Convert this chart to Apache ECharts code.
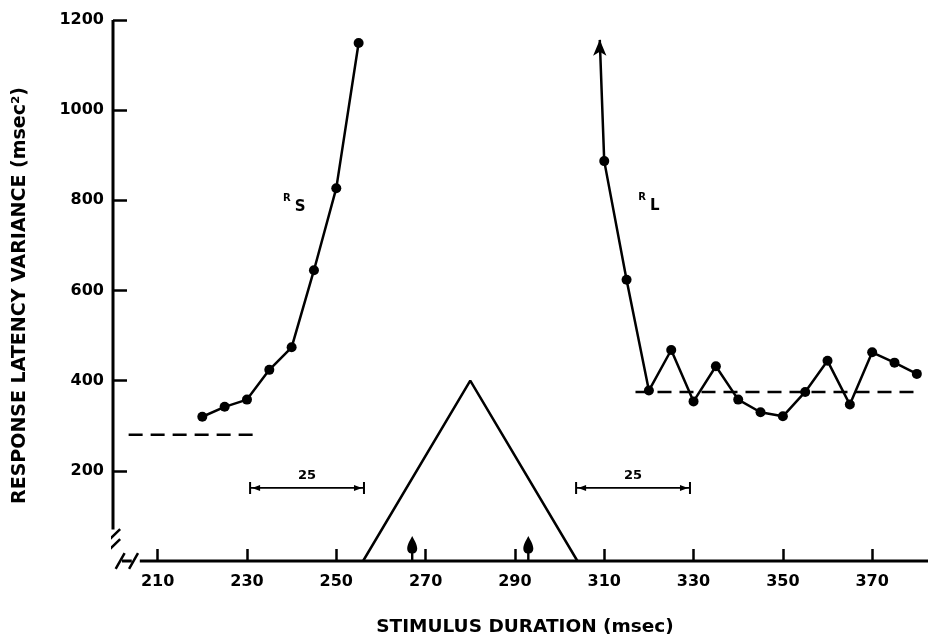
<!DOCTYPE html>
<html><head><meta charset="utf-8">
<script src="https://cdn.jsdelivr.net/npm/echarts@6/dist/echarts.min.js"></script>
<style>html,body{margin:0;padding:0;background:#fff}#c{width:928px;height:642px}</style>
</head><body><div id="c"></div>
<script>
const xTicks = [210, 230, 250, 270, 290, 310, 330, 350, 370];
const yTicks = [200, 400, 600, 800, 1000, 1200];
const rsX = [220, 225, 230, 235, 240, 245, 250, 255];
const rsY = [320, 342, 358, 424, 474, 645, 827, 1149];
const rlX = [310, 315, 320, 325, 330, 335, 340, 345, 350, 355, 360, 365, 370, 375, 380];
const rlY = [887, 624, 378, 468, 354, 432, 358, 330, 321, 375, 444, 347, 463, 440, 415];
const rlArrow = [309, 1156];
const baseSX = [203.5, 233]; const baseSY = 280;
const baseLX = [317, 380.5]; const baseLY = 375;
const triX = [256, 280, 304]; const triY = [0, 400, 0];
const markerX = [267, 293];
const bracketSX = [230.7, 256.2]; const bracketLX = [303.7, 329.2]; const bracketY = 162;
const bracketText = '25'; const bracketTextY = 190;
const labelRS = [240.6, 792]; const labelRL = [320, 794];

const FF = 'DejaVu Sans';
const K = '#000';
const leftEnd = 'path://M0,0 L2,0 L2,12 L0,12 Z M3,6 L11,3 L11,9 Z';
const rightEnd = 'path://M9,0 L11,0 L11,12 L9,12 Z M8,6 L0,3 L0,9 Z';
const markerPath = 'path://M5,0 C6.5,3 10,8 10,12 C10,15 8,17 5,17 C2,17 0,15 0,12 C0,8 3.5,3 5,0 Z M3.8,16 L6.2,16 L6.2,24 L3.8,24 Z';

function plain(data, extra) {
  return Object.assign({type:'line', data, symbol:'none', silent:true, clip:false, animation:false,
    lineStyle:{color:K, width:2.5}}, extra || {});
}
function bracket(xs) {
  return plain([
    {value:[xs[0], bracketY], symbol:leftEnd, symbolSize:[11,12], symbolOffset:[4.5,0]},
    {value:[xs[1], bracketY], symbol:rightEnd, symbolSize:[11,12], symbolOffset:[-4.5,0]}
  ], {showSymbol:true, symbol:'none', itemStyle:{color:K, opacity:1}, lineStyle:{color:K, width:1.8}});
}
function textAt(pt, formatter, rich, style) {
  return {type:'scatter', data:[pt], symbolSize:0, silent:true, itemStyle:{color:K, opacity:1},
    label:Object.assign({show:true, position:'inside', formatter, color:K, fontFamily:FF, fontWeight:'bold',
      textBorderWidth:0, rich}, style||{})};
}
const richR = {
  r:{fontFamily:FF, fontWeight:'bold', fontSize:10, color:K, verticalAlign:'top', lineHeight:22},
  s:{fontFamily:FF, fontWeight:'bold', fontSize:15, color:K, verticalAlign:'bottom', lineHeight:22, padding:[0,0,0,4]}
};

const chart = echarts.init(document.getElementById('c'), null, {renderer:'canvas'});
chart.setOption({
  animation:false,
  backgroundColor:'#fff',
  grid:{left:113, right:0, top:20, bottom:78},
  xAxis:{type:'value', min:200, max:382.5,
    axisLine:{show:false}, splitLine:{show:false},
    axisTick:{show:true, inside:true, length:12, customValues:xTicks, lineStyle:{color:K, width:2.5}},
    axisLabel:{customValues:xTicks, margin:13, color:K, fontFamily:FF, fontWeight:'bold', fontSize:16,
      formatter:v => String(v)},
    name:'STIMULUS DURATION (msec)', nameLocation:'middle', nameGap:57,
    nameTextStyle:{color:K, fontFamily:FF, fontWeight:'bold', fontSize:18.5, padding:[0,0,0,9]}},
  yAxis:{type:'value', min:0, max:1200,
    axisLine:{show:false}, splitLine:{show:false},
    axisTick:{show:true, inside:true, length:14, customValues:yTicks, lineStyle:{color:K, width:2.5}},
    axisLabel:{customValues:yTicks, margin:9, color:K, fontFamily:FF, fontWeight:'bold', fontSize:16,
      formatter:v => String(v)},
    name:'RESPONSE LATENCY VARIANCE (msec\u00B2)', nameLocation:'middle', nameGap:83,
    nameTextStyle:{color:K, fontFamily:FF, fontWeight:'bold', fontSize:19, padding:[0,10,0,0]}},
  series:[
    plain([[200, 70], [200, 1200]], {lineStyle:{color:K, width:3}}),
    plain([[206, 0], [382.5, 0]], {lineStyle:{color:K, width:3}}),
    plain([[202.0, 0], [204.2, 0]], {lineStyle:{color:K, width:3}}),
    plain([[198.4, 39.7], [201.6, 70.6], '-', [198.4, 17.6], [201.6, 48.5], '-',
           [200.6, -17.6], [202.6, 17.6], '-', [203.6, -17.6], [205.6, 17.6]],
          {lineStyle:{color:K, width:2.5}}),
    plain(baseSX.map(x => [x, baseSY]), {lineStyle:{color:K, width:2.5, type:[14, 8]}}),
    plain(baseLX.map(x => [x, baseLY]), {lineStyle:{color:K, width:2.5, type:[14, 8]}}),
    plain(triX.map((x, i) => [x, triY[i]]), {lineStyle:{color:K, width:2.5}}),
    {type:'line', data:rsX.map((x, i) => [x, rsY[i]]), symbol:'circle', symbolSize:10, showSymbol:true,
      lineStyle:{color:K, width:2.5}, itemStyle:{color:K, opacity:1}, silent:true, clip:false},
    {type:'line', data:[{value:rlArrow, symbol:'arrow', symbolSize:[10,16]}].concat(rlX.map((x, i) => [x, rlY[i]])),
      symbol:'circle', symbolSize:10, showSymbol:true,
      lineStyle:{color:K, width:2.5}, itemStyle:{color:K, opacity:1}, silent:true, clip:false},
    {type:'scatter', data:markerX.map(x => [x, 0]), symbol:markerPath, symbolSize:[10,25],
      symbolOffset:[0,'-50%'], itemStyle:{color:K, opacity:1}, silent:true, clip:false},
    bracket(bracketSX),
    bracket(bracketLX),
    textAt([(bracketSX[0]+bracketSX[1])/2, bracketTextY], bracketText, null, {fontSize:13}),
    textAt([(bracketLX[0]+bracketLX[1])/2, bracketTextY], bracketText, null, {fontSize:13}),
    textAt(labelRS, '{r|R}{s|S}', richR),
    textAt(labelRL, '{r|R}{s|L}', richR)
  ]
});
</script></body></html>
